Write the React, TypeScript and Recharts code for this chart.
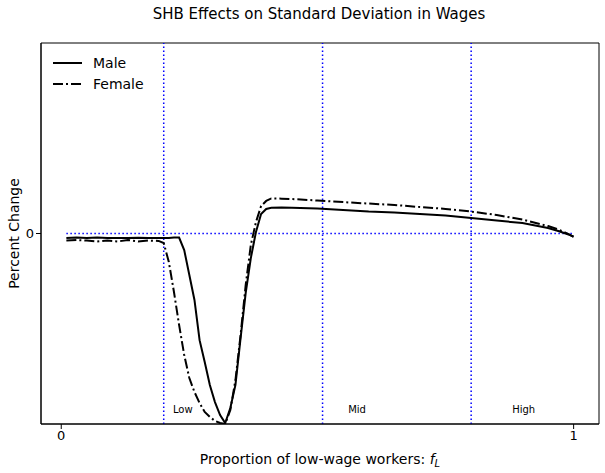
import React from 'react';
import { LineChart, Line, XAxis, YAxis, ReferenceLine, ReferenceDot, ReferenceArea, Legend } from 'recharts';

const xs = [0.01, 0.03, 0.05, 0.07, 0.09, 0.11, 0.13, 0.15, 0.17, 0.19, 0.2, 0.21, 0.22, 0.23, 0.24, 0.25, 0.26, 0.27, 0.28, 0.29, 0.3, 0.31, 0.32, 0.33, 0.34, 0.35, 0.36, 0.37, 0.38, 0.39, 0.4, 0.41, 0.43, 0.45, 0.5, 0.55, 0.6, 0.65, 0.7, 0.75, 0.8, 0.85, 0.9, 0.95, 0.97, 0.99, 1.0];
const male = [-0.024, -0.021, -0.024, -0.021, -0.024, -0.023, -0.024, -0.022, -0.024, -0.024, -0.024, -0.024, -0.021, -0.021, -0.087, -0.218, -0.349, -0.56, -0.675, -0.795, -0.885, -0.953, -0.995, -0.916, -0.795, -0.549, -0.312, -0.129, 0.008, 0.102, 0.129, 0.135, 0.136, 0.135, 0.131, 0.123, 0.115, 0.11, 0.102, 0.094, 0.081, 0.068, 0.055, 0.029, 0.013, -0.005, -0.017];
const female = [-0.037, -0.034, -0.037, -0.042, -0.037, -0.042, -0.034, -0.042, -0.037, -0.039, -0.05, -0.15, -0.307, -0.48, -0.638, -0.759, -0.832, -0.89, -0.937, -0.963, -0.984, -0.995, -1.0, -0.927, -0.769, -0.533, -0.27, -0.06, 0.06, 0.144, 0.171, 0.184, 0.183, 0.181, 0.173, 0.165, 0.157, 0.15, 0.139, 0.129, 0.115, 0.097, 0.073, 0.039, 0.021, -0.003, -0.017];

const xTicks = [0, 1];
const yTicks = [0];
const xDomain: [number, number] = [-0.0395, 1.0495];
const yDomain: [number, number] = [-1, 1];
const regionBounds = [0.2, 0.51, 0.8];
const regionLabels = [
  { x: 0.218, y: -0.92, text: 'Low' },
  { x: 0.56, y: -0.92, text: 'Mid' },
  { x: 0.88, y: -0.92, text: 'High' },
];
const baselineSegment = [0.01, 1.0];

const series = [
  { key: 'male', name: 'Male', dash: undefined as string | undefined },
  { key: 'female', name: 'Female', dash: '10 3 2 3' },
];

const data = xs.map((x, i) => ({ x, male: male[i], female: female[i] }));

const FONT = '"DejaVu Sans", sans-serif';
const DOT = '1.5 2.5';

function LegendContent() {
  return (
    <svg width={120} height={46} style={{ display: 'block' }}>
      {series.map((s, i) => (
        <g key={s.key}>
          <line x1={3} x2={32} y1={11 + i * 21} y2={11 + i * 21} stroke="#000" strokeWidth={2} strokeDasharray={s.dash} />
          <text x={43} y={16 + i * 21} fontSize={14} fontFamily={FONT} fill="#000">{s.name}</text>
        </g>
      ))}
    </svg>
  );
}

export default function App() {
  return (
    <div style={{ position: 'absolute', left: 0, top: 0, width: 605, height: 473, background: '#fff' }}>
      <div style={{ position: 'absolute', left: 0, width: 638, top: 5, textAlign: 'center', fontFamily: FONT, fontSize: 15, color: '#000' }}>
        SHB Effects on Standard Deviation in Wages
      </div>
      <LineChart width={605} height={473} data={data} margin={{ top: 43, right: 6, bottom: 0, left: 0 }}>
        <XAxis
          type="number"
          dataKey="x"
          domain={xDomain}
          allowDataOverflow
          ticks={xTicks}
          tickSize={5}
          height={49}
          stroke="#000"
          tick={{ fill: '#000', fontSize: 13, fontFamily: FONT }}
          tickFormatter={(v: number) => String(v)}
          label={{
            content: (p: any) => {
              const vb = p.viewBox;
              return (
                <text x={vb.x + vb.width / 2} y={vb.y + 40} textAnchor="middle" fontSize={14} fontFamily={FONT} fill="#000">
                  Proportion of low-wage workers: <tspan fontStyle="italic">f</tspan>
                  <tspan fontStyle="italic" fontSize={10} dy={3}>L</tspan>
                </text>
              );
            },
          }}
        />
        <YAxis
          type="number"
          domain={yDomain}
          allowDataOverflow
          ticks={yTicks}
          tickSize={5}
          width={41}
          stroke="#000"
          tick={{ fill: '#000', fontSize: 13, fontFamily: FONT }}
          label={{
            content: (p: any) => {
              const vb = p.viewBox;
              const cx = vb.x + 14;
              const cy = vb.y + vb.height / 2;
              return (
                <text x={cx} y={cy} transform={`rotate(-90 ${cx} ${cy})`} textAnchor="middle" dominantBaseline="central" fontSize={14} fontFamily={FONT} fill="#000">
                  Percent Change
                </text>
              );
            },
          }}
        />
        <ReferenceArea x1={xDomain[0]} x2={xDomain[1]} y1={yDomain[0]} y2={yDomain[1]} fill="none" fillOpacity={0} stroke="#000" strokeWidth={1} ifOverflow="visible" />
        {regionBounds.map((b) => (
          <ReferenceLine key={b} x={b} stroke="#0000ff" strokeWidth={1.5} strokeDasharray={DOT} />
        ))}
        <ReferenceLine
          segment={[{ x: baselineSegment[0], y: 0 }, { x: baselineSegment[1], y: 0 }]}
          stroke="#0000ff"
          strokeWidth={1.5}
          strokeDasharray={DOT}
        />
        {regionLabels.map((l) => (
          <ReferenceDot
            key={l.text}
            x={l.x}
            y={l.y}
            r={0}
            fill="none"
            stroke="none"
            label={{
              content: (p: any) => {
                const vb = p.viewBox;
                return (
                  <text x={vb.x} y={vb.y + 4} fontSize={10} fontFamily={FONT} fill="#000">{l.text}</text>
                );
              },
            }}
          />
        ))}
        {series.map((s) => (
          <Line
            key={s.key}
            type="linear"
            dataKey={s.key}
            name={s.name}
            stroke="#000"
            strokeWidth={2}
            strokeDasharray={s.dash}
            dot={false}
            activeDot={false}
            isAnimationActive={false}
          />
        ))}
        <Legend
          layout="vertical"
          align="center"
          verticalAlign="middle"
          wrapperStyle={{ left: 50, top: 52, width: 120, height: 46 }}
          content={() => <LegendContent />}
        />
      </LineChart>
    </div>
  );
}
